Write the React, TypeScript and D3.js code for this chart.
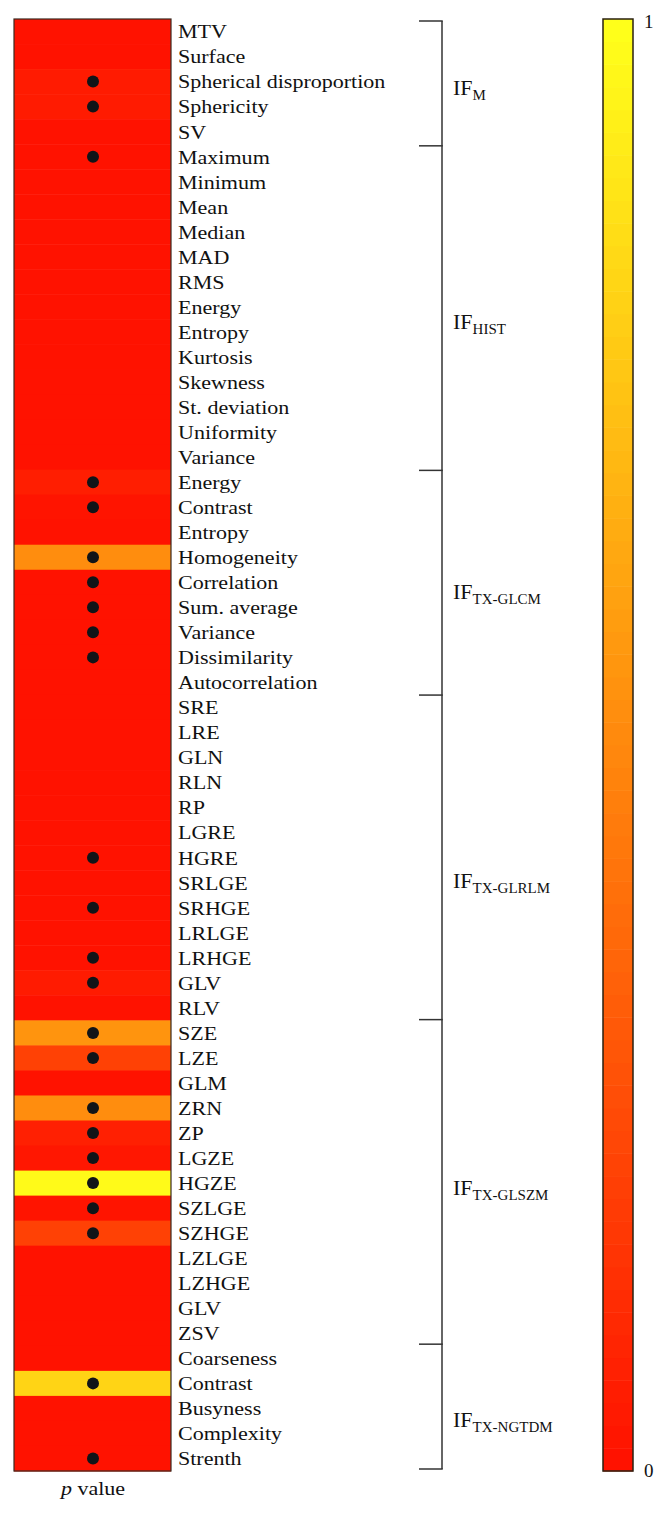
import React from "react";
import * as d3 from "d3";

const features = [
  "MTV", "Surface", "Spherical disproportion", "Sphericity", "SV",
  "Maximum", "Minimum", "Mean", "Median", "MAD", "RMS", "Energy", "Entropy", "Kurtosis", "Skewness", "St. deviation", "Uniformity", "Variance",
  "Energy", "Contrast", "Entropy", "Homogeneity", "Correlation", "Sum. average", "Variance", "Dissimilarity", "Autocorrelation",
  "SRE", "LRE", "GLN", "RLN", "RP", "LGRE", "HGRE", "SRLGE", "SRHGE", "LRLGE", "LRHGE", "GLV", "RLV",
  "SZE", "LZE", "GLM", "ZRN", "ZP", "LGZE", "HGZE", "SZLGE", "SZHGE", "LZLGE", "LZHGE", "GLV", "ZSV",
  "Coarseness", "Contrast", "Busyness", "Complexity", "Strenth",
];

const pValues = [
  0.0, 0.0, 0.04, 0.04, 0.0,
  0.0, 0.0, 0.0, 0.0, 0.0, 0.0, 0.0, 0.0, 0.0, 0.0, 0.0, 0.0, 0.0,
  0.05, 0.01, 0.0, 0.52, 0.0, 0.0, 0.0, 0.0, 0.0,
  0.0, 0.0, 0.0, 0.0, 0.0, 0.0, 0.0, 0.0, 0.0, 0.0, 0.0, 0.04, 0.0,
  0.55, 0.2, 0.0, 0.52, 0.06, 0.02, 0.98, 0.01, 0.2, 0.0, 0.0, 0.0, 0.0,
  0.0, 0.82, 0.0, 0.0, 0.0,
];

const significant = [
  0, 0, 1, 1, 0,
  1, 0, 0, 0, 0, 0, 0, 0, 0, 0, 0, 0, 0,
  1, 1, 0, 1, 1, 1, 1, 1, 0,
  0, 0, 0, 0, 0, 0, 1, 0, 1, 0, 1, 1, 0,
  1, 1, 0, 1, 1, 1, 1, 1, 1, 0, 0, 0, 0,
  0, 1, 0, 0, 1,
];

const groupNames = ["M", "HIST", "TX-GLCM", "TX-GLRLM", "TX-GLSZM", "TX-NGTDM"];
const groupSizes = [5, 13, 9, 13, 13, 5];
const colorbarTicks = [0, 1];

// layout
const heatX0 = 14, heatX1 = 171, heatY0 = 19, heatY1 = 1471;
const labelX = 178;
const dotX = 93;
const bracketX = 442, bracketTickX = 419, bracketY0 = 21, bracketY1 = 1469;
const groupLabelX = 453;
const groupLabelBaseline = [95, 329, 599, 888, 1195, 1427];
const cbX0 = 603, cbX1 = 633;
const textScaleX = 1.16;
const FONT = "'Liberation Serif', 'DejaVu Serif', serif";

export default function App() {
  React.useEffect(() => {
    document.body.style.margin = "0";
  }, []);

  const y = d3.scaleBand<number>().domain(d3.range(features.length)).range([heatY0, heatY1]).paddingInner(0).paddingOuter(0);
  const color = d3.scaleLinear<string>().domain([0, 1]).range(["#ff1200", "#ffff1a"]).interpolate(d3.interpolateRgb);
  const by = d3.scaleLinear().domain([0, features.length]).range([bracketY0, bracketY1]);
  const cbY = d3.scaleLinear().domain([0, 1]).range([heatY1, heatY0]);
  const nBands = 64;
  const bands = d3.range(nBands).map((i) => i / (nBands - 1));

  const bounds: number[] = [0];
  groupSizes.forEach((s, i) => bounds.push(bounds[i] + s));

  return (
    <svg width={666} height={1514} style={{ display: "block", background: "#fff" }} fontFamily={FONT}>
      {/* heatmap */}
      {features.map((f, i) => (
        <rect key={"r" + i} x={heatX0} y={y(i)} width={heatX1 - heatX0} height={y.bandwidth() + 0.5} fill={color(pValues[i])} />
      ))}
      <rect x={heatX0} y={heatY0} width={heatX1 - heatX0} height={heatY1 - heatY0} fill="none" stroke="#3a2a20" strokeWidth={1.2} />
      {features.map((f, i) =>
        significant[i] ? (
          <circle key={"d" + i} cx={dotX} cy={(y(i) as number) + y.bandwidth() / 2} r={6} fill="#111418" />
        ) : null
      )}
      {features.map((f, i) => (
        <text
          key={"t" + i}
          transform={`translate(${labelX},${(y(i) as number) + y.bandwidth() / 2}) scale(${textScaleX},1)`}
          dy="0.36em"
          fontSize={19}
          fill="#111"
        >
          {f}
        </text>
      ))}
      <text transform={`translate(${dotX},1495) scale(${textScaleX},1)`} textAnchor="middle" fontSize={19} fill="#111">
        <tspan fontStyle="italic">p</tspan> value
      </text>

      {/* brackets */}
      <line x1={bracketX} x2={bracketX} y1={bracketY0} y2={bracketY1} stroke="#333" strokeWidth={1.5} />
      {bounds.map((b, i) => (
        <line key={"b" + i} x1={bracketTickX} x2={bracketX + 0.75} y1={by(b)} y2={by(b)} stroke="#333" strokeWidth={1.5} />
      ))}
      {groupNames.map((g, i) => (
        <text key={"g" + i} x={groupLabelX} y={groupLabelBaseline[i]} fontSize={22} fill="#111">
          IF
          <tspan fontSize={15} dy={5}>{g}</tspan>
        </text>
      ))}

      {/* colorbar */}
      {bands.map((v, i) => {
        const yTop = cbY((i + 1) / nBands);
        const yBot = cbY(i / nBands);
        return <rect key={"c" + i} x={cbX0} y={yTop} width={cbX1 - cbX0} height={yBot - yTop + 0.5} fill={color(v)} />;
      })}
      <rect x={cbX0} y={heatY0} width={cbX1 - cbX0} height={heatY1 - heatY0} fill="none" stroke="#2a2010" strokeWidth={1.5} />
      {colorbarTicks.map((t) => (
        <text key={"k" + t} x={644} y={cbY(t)} dy={t === 1 ? "0.45em" : "0.3em"} fontSize={19} fill="#111">
          {t}
        </text>
      ))}
    </svg>
  );
}
